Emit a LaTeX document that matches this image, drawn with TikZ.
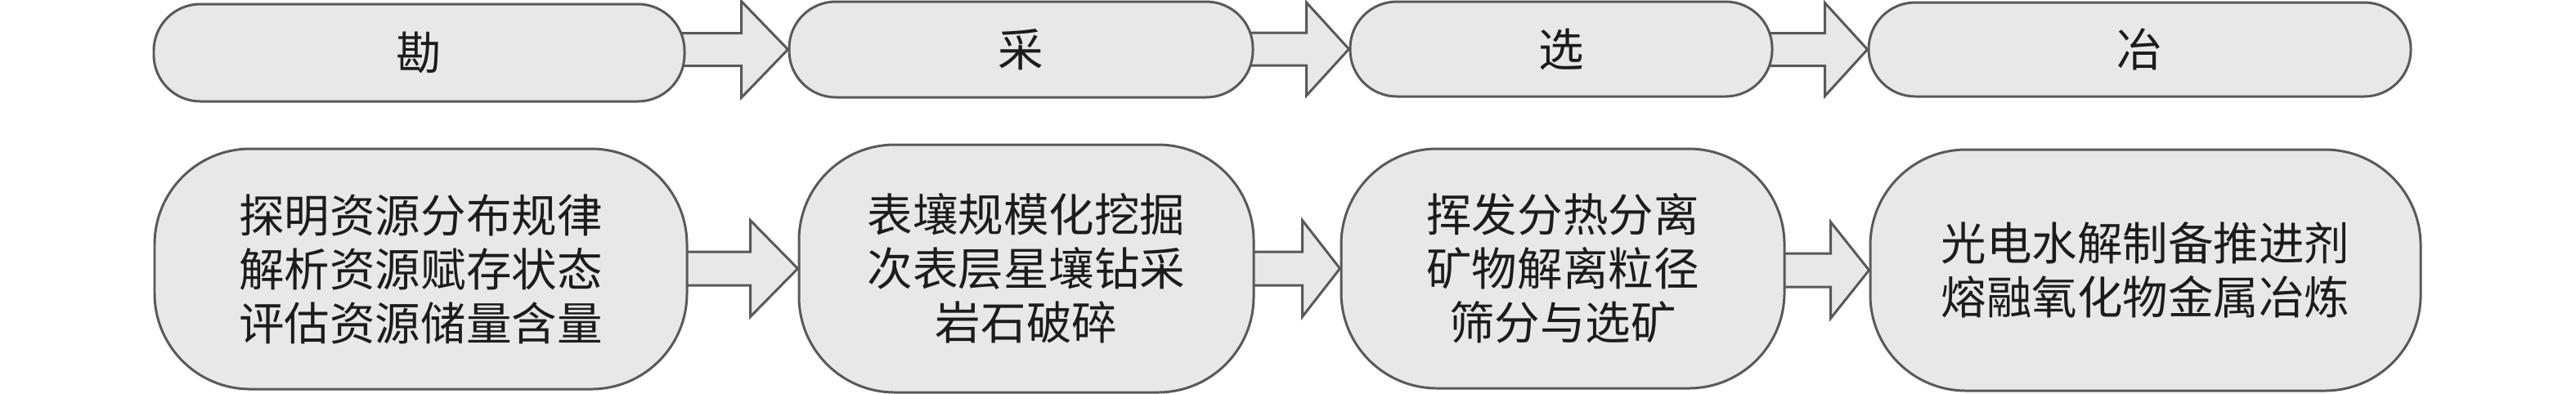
\documentclass[tikz,border=0pt]{standalone}
\usepackage{fontspec}
\setmainfont{Noto Sans CJK SC}
\usetikzlibrary{calc}
\pgfdeclarelayer{background}
\pgfsetlayers{background,main}
\definecolor{boxFill}{HTML}{E8E8E8}
\definecolor{boxLine}{HTML}{595959}
\definecolor{boxText}{HTML}{1C1C1C}
\tikzstyle{stagePart} = [draw=boxLine, fill=boxFill, line width=0.85pt, text=boxText, rounded corners=0.57cm, inner sep=0pt, font=\fontsize{15.8pt}{18.8pt}\selectfont]
\tikzstyle{detailPart} = [draw=boxLine, fill=boxFill, line width=0.85pt, text=boxText, rounded corners=1.17cm, inner sep=0pt, align=center, font=\fontsize{15.8pt}{18.8pt}\selectfont]
\tikzstyle{flowArrow} = [draw=boxLine, fill=boxFill, line width=0.85pt, line join=miter]

% block arrow from #1 to #2: head length #3, shaft half width #4, head half width #5
\newcommand{\blockArrow}[5]{%
  \begin{pgfonlayer}{background}
    \path [flowArrow] let \p1 = (#1.east), \p2 = (#2.west) in
      (\x1-0.3cm,\y2+#4) -- (\x2-#3,\y2+#4) -- (\x2-#3,\y2+#5) -- (\x2,\y2)
      -- (\x2-#3,\y2-#5) -- (\x2-#3,\y2-#4) -- (\x1-0.3cm,\y2-#4);
  \end{pgfonlayer}}

\begin{document}
\begin{tikzpicture}
		\useasboundingbox (0,0) rectangle (31.5,-4.81);

		% Stages
		\path (5.125,-0.645) node (kan) [stagePart, minimum width=6.49cm, minimum height=1.19cm] {勘};
		\path (12.485,-0.605) node (cai) [stagePart, minimum width=5.67cm, minimum height=1.17cm] {采};
		\path (19.09,-0.60) node (xuan) [stagePart, minimum width=5.16cm, minimum height=1.16cm] {选};
		\path (26.165,-0.605) node (ye) [stagePart, minimum width=6.63cm, minimum height=1.15cm] {冶};

		\blockArrow{kan}{cai}{0.57cm}{0.20cm}{0.59cm}
		\blockArrow{cai}{xuan}{0.52cm}{0.20cm}{0.57cm}
		\blockArrow{xuan}{ye}{0.52cm}{0.20cm}{0.57cm}

		% Details below each stage
		\path (kan)+(0.02,-2.645) node (kanDetail) [detailPart, minimum width=6.51cm, minimum height=2.94cm] {探明资源分布规律\\解析资源赋存状态\\评估资源储量含量};
		\path (cai)+(0.065,-2.68) node (caiDetail) [detailPart, minimum width=5.56cm, minimum height=3.03cm] {表壤规模化挖掘\\次表层星壤钻采\\岩石破碎};
		\path (xuan)+(0.02,-2.685) node (xuanDetail) [detailPart, minimum width=5.42cm, minimum height=2.93cm] {挥发分热分离\\矿物解离粒径\\筛分与选矿};
		\path (ye)+(0.07,-2.70) node (yeDetail) [detailPart, minimum width=6.73cm, minimum height=2.95cm] {光电水解制备推进剂\\熔融氧化物金属冶炼};

		\blockArrow{kanDetail}{caiDetail}{0.58cm}{0.205cm}{0.59cm}
		\blockArrow{caiDetail}{xuanDetail}{0.46cm}{0.205cm}{0.59cm}
		\blockArrow{xuanDetail}{yeDetail}{0.47cm}{0.205cm}{0.59cm}
\end{tikzpicture}
\end{document}
